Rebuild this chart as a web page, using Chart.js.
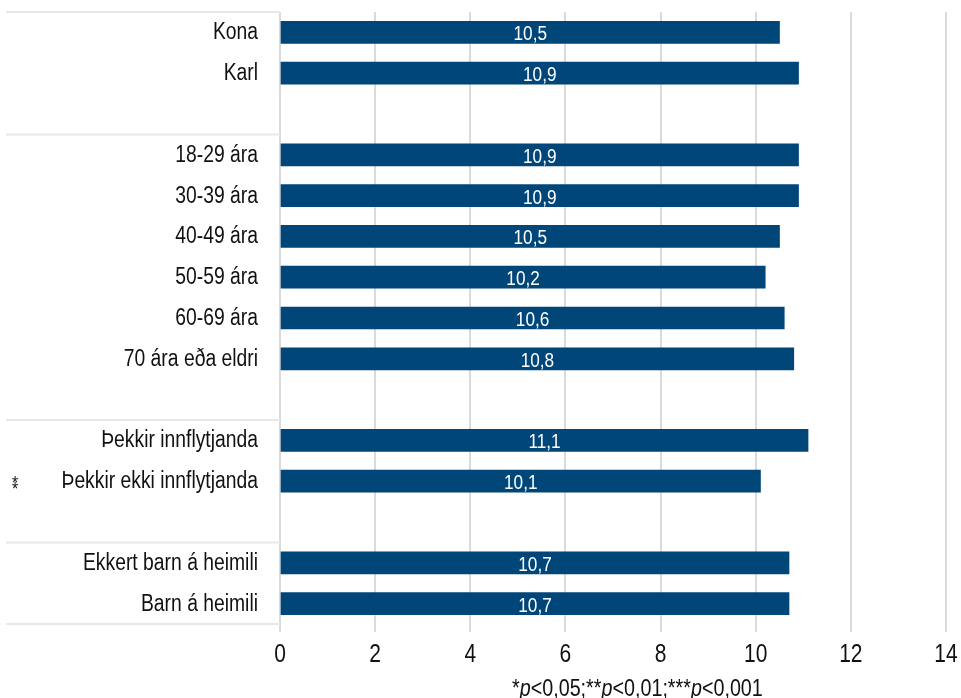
<!DOCTYPE html>
<html>
<head>
<meta charset="utf-8">
<script src="https://cdn.jsdelivr.net/npm/chart.js@4"></script>
<style>
  body { margin: 0; background: #fff; }
  #wrap { width: 961px; height: 698px; position: relative; }
</style>
</head>
<body>
<div id="wrap"><canvas id="barChart"></canvas></div>
<script>
// chart data
const categories = ["Kona", "Karl", "", "18-29 ára", "30-39 ára", "40-49 ára", "50-59 ára", "60-69 ára",
    "70 ára eða eldri", "", "Þekkir innflytjanda", "Þekkir ekki innflytjanda", "", "Ekkert barn á heimili", "Barn á heimili"];
const values = [10.5, 10.9, null, 10.9, 10.9, 10.5, 10.2, 10.6, 10.8, null, 11.1, 10.1, null, 10.7, 10.7];
const significance = ["", "", "", "", "", "", "", "", "", "", "", "**", "", "", ""];
const xTicks = [0, 2, 4, 6, 8, 10, 12, 14];
const footnote = [["*", false], ["p", true], ["<0,05;**", false], ["p", true], ["<0,01;***", false], ["p", true], ["<0,001", false]];

const FONT = "'Liberation Sans', Arial, sans-serif";
const NARROW = 0.84;   // squeeze Arial into an Arial Narrow look
const barColor = "#004679";
const textColor = "#111";

// draw text horizontally squeezed
function narrowText(ctx, text, x, y, align, font, color) {
    ctx.save();
    ctx.font = font;
    ctx.fillStyle = color;
    ctx.textAlign = align;
    ctx.textBaseline = "alphabetic";
    ctx.translate(x, y);
    ctx.scale(NARROW, 1);
    ctx.fillText(text, 0, 0);
    ctx.restore();
}

/* value labels inside bars */
const valueLabels = {
    id: "valueLabels",
    afterDatasetsDraw(chart) {
        const meta = chart.getDatasetMeta(0);
        meta.data.forEach((bar, i) => {
            if (values[i] == null) return;
            const cx = (bar.x + bar.base) / 2;
            narrowText(chart.ctx, values[i].toFixed(1).replace(".", ","), cx, bar.y + 8, "center", "20.5px " + FONT, "#fff");
        });
    }
};

/* axis labels, group separators, significance stars, footnote */
const extras = {
    id: "extras",
    afterDraw(chart) {
        const ctx = chart.ctx;
        const area = chart.chartArea;
        const y = chart.scales.y;
        const x = chart.scales.x;

        ctx.save();
        ctx.strokeStyle = "#e8e8e8";
        ctx.lineWidth = 2;
        let lines = [area.top, area.bottom];
        categories.forEach((c, i) => {
            if (c === "" && i < categories.length - 1) {
                lines.push((y.getPixelForValue(i) + y.getPixelForValue(i + 1)) / 2);
            }
        });
        lines.forEach(ly => {
            ctx.beginPath();
            ctx.moveTo(6, ly);
            ctx.lineTo(area.left, ly);
            ctx.stroke();
        });
        ctx.restore();

        // category labels
        categories.forEach((c, i) => {
            if (!c) return;
            narrowText(ctx, c, area.left - 22, y.getPixelForValue(i) + 7, "right", "23px " + FONT, textColor);
        });

        // x tick labels
        xTicks.forEach(v => {
            narrowText(ctx, String(v), x.getPixelForValue(v), 662, "center", "25px " + FONT, textColor);
        });

        // stars, stacked
        significance.forEach((s, i) => {
            if (!s) return;
            const py = y.getPixelForValue(i);
            for (let k = 0; k < s.length; k++) {
                narrowText(ctx, "*", 15, py + 8 + k * 6, "center", "19px " + FONT, textColor);
            }
        });

        // footnote with italic p
        let fx = 512;
        footnote.forEach(([t, it]) => {
            const font = (it ? "italic " : "") + "23.5px " + FONT;
            narrowText(ctx, t, fx, 696, "left", font, textColor);
            ctx.save();
            ctx.font = font;
            fx += ctx.measureText(t).width * NARROW;
            ctx.restore();
        });
    }
};

let chart = new Chart(document.getElementById("barChart").getContext("2d"), {
    type: "bar",
    data: {
        labels: categories,
        datasets: [{
            data: values,
            backgroundColor: barColor,
            barThickness: 22
        }]
    },
    options: {
        indexAxis: "y",
        responsive: true,
        maintainAspectRatio: false,
        animation: false,
        layout: { padding: { top: 12, right: 15, left: 0, bottom: 0 } },
        plugins: { legend: { display: false }, tooltip: { enabled: false } },
        scales: {
            x: {
                min: 0,
                max: 14,
                afterBuildTicks: (scale) => { scale.ticks = xTicks.map(v => ({ value: v })); },
                afterFit: (scale) => { scale.height = 74; },
                grid: { color: "#dadada", lineWidth: 2, tickLength: 8 },
                border: { display: false },
                ticks: { display: false }
            },
            y: {
                afterFit: (scale) => { scale.width = 280; },
                grid: { display: false, drawTicks: false },
                border: { display: false },
                ticks: { display: false, autoSkip: false }
            }
        }
    },
    plugins: [valueLabels, extras]
});
</script>
</body>
</html>
